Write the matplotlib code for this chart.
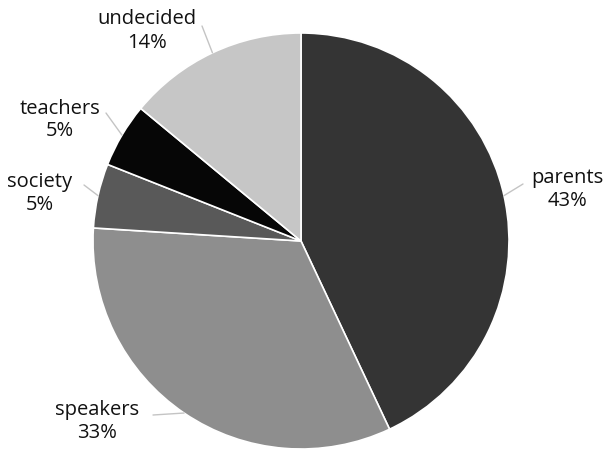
import numpy as np
import matplotlib
matplotlib.use("Agg")
import matplotlib.pyplot as plt

# who should decide
labels = ["parents", "speakers", "society", "teachers", "undecided"]
shares = [43, 33, 5, 5, 14]
colors = ["#343434", "#8e8e8e", "#595959", "#060606", "#c6c6c6"]

# label anchors and leader line ends, in pixels from the top-left
label_xy = [(567, 190), (97, 421), (40, 193), (60, 120), (147, 31)]
leader_end = [(523, 184), (153, 415), (84, 185), (106, 113), (202, 26)]

W, H = 603, 451
cx, cy, r = 301, 241, 208

plt.rcParams["font.family"] = ["Open Sans", "DejaVu Sans"]

fig = plt.figure(figsize=(W / 100, H / 100), dpi=100)
ax = fig.add_axes([0, 0, 1, 1])

wedges, _ = ax.pie(shares, colors=colors, startangle=90, counterclock=False,
                   radius=1, wedgeprops=dict(edgecolor="white", linewidth=1.2))

# pie() resets the limits, so set them afterwards
ax.set_xlim(-cx / r, (W - cx) / r)
ax.set_ylim((cy - H) / r, cy / r)
ax.set_aspect("equal")
ax.axis("off")


def to_data(p):
    return ((p[0] - cx) / r, (cy - p[1]) / r)


for w, name, val, lxy, lend in zip(wedges, labels, shares, label_xy, leader_end):
    mid = np.deg2rad((w.theta1 + w.theta2) / 2)
    x0, y0 = np.cos(mid), np.sin(mid)
    x1, y1 = to_data(lend)
    ax.plot([x0, x1], [y0, y1], color="#c4c4c4", lw=1.0, solid_capstyle="round")
    tx, ty = to_data(lxy)
    ax.text(tx, ty, f"{name}\n{val}%", ha="center", va="center",
            fontsize=14.5, color="#111111", linespacing=1.2)

fig.savefig("out.png", dpi=100)
